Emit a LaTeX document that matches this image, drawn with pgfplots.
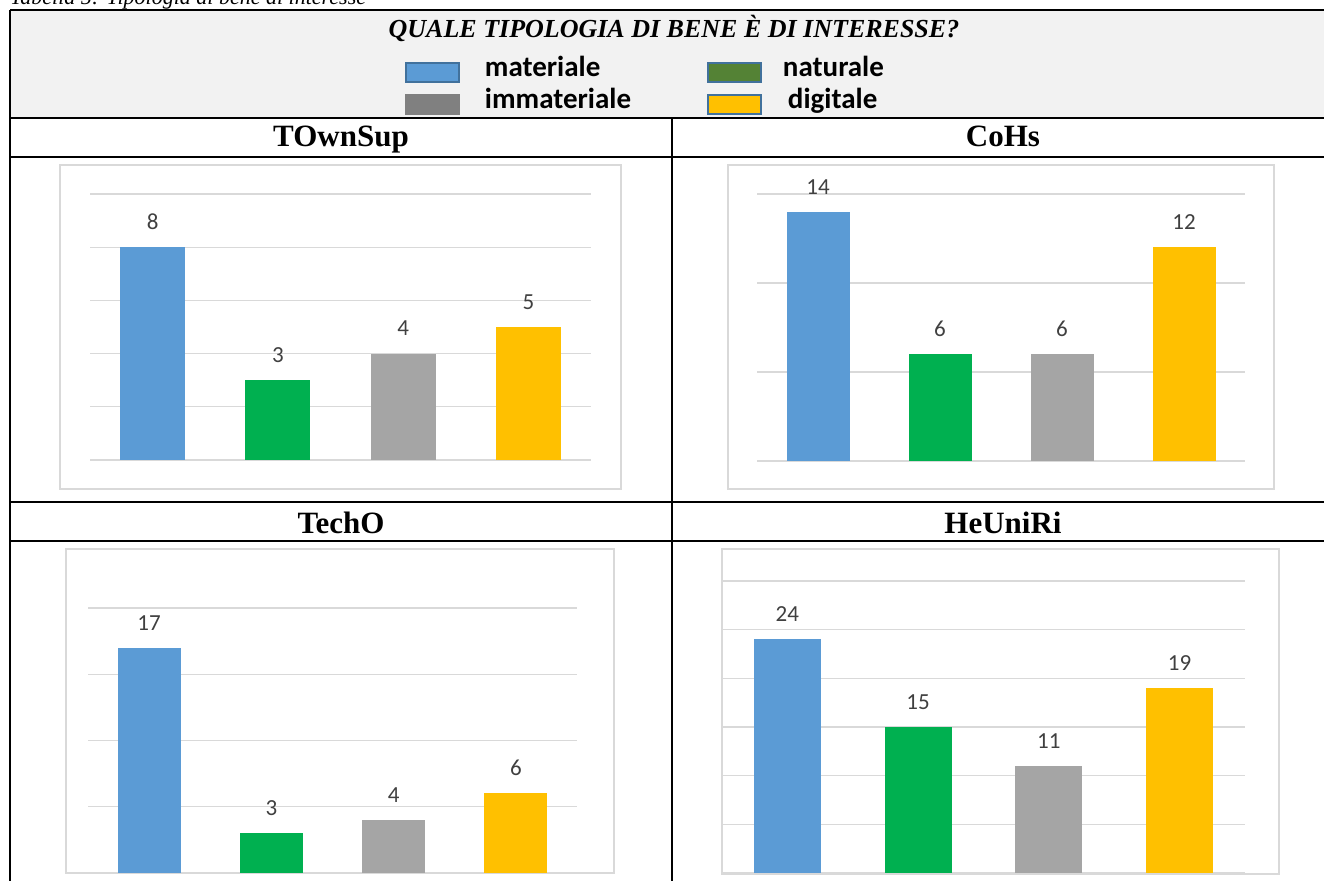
\documentclass[border=0pt]{standalone}
\usepackage{fontspec}
\setmainfont{Liberation Serif}
\newfontfamily\carlito{Carlito}
\usepackage{pgfplots}
\pgfplotsset{compat=1.18}

\definecolor{cBlue}{HTML}{5B9BD5}
\definecolor{cGreen}{HTML}{00B050}
\definecolor{cGray}{HTML}{A5A5A5}
\definecolor{cYellow}{HTML}{FFC000}
\definecolor{cGrid}{HTML}{D9D9D9}
\definecolor{cLabel}{HTML}{404040}
\definecolor{cHead}{HTML}{F2F2F2}
\definecolor{legEdge}{HTML}{41719C}
\definecolor{legGreen}{HTML}{548235}
\definecolor{legGray}{HTML}{808080}

\newcommand\capfont{\fontsize{22}{26}\selectfont\itshape}
\newcommand\titlefont{\fontsize{26}{30}\selectfont\bfseries\itshape}
\newcommand\rowfont{\fontsize{31}{36}\selectfont\bfseries}
\newcommand\legfont{\carlito\bfseries\fontsize{29}{32}\selectfont}
\newcommand\labfont{\carlito\fontsize{23}{26}\selectfont}

\pgfplotsset{
  panel/.style={
    scale only axis, clip=false, anchor=south west,
    xmin=-0.5, xmax=3.5, ymin=0,
    axis line style={draw=none},
    tick style={draw=none}, major tick length=0pt,
    xtick=\empty, yticklabels={},
    ymajorgrids, grid style={cGrid, line width=1.3pt},
    /pgf/number format/assume math mode=true,
    nodes near coords,
    every node near coord/.append style={font=\labfont, text=cLabel, inner sep=0pt, yshift=17.5pt},
  },
  bb/.style={ybar, bar shift=0pt, fill=#1, draw=none, forget plot},
  legbox/.style 2 args={legend image code/.code={%
      \draw[fill=#1, draw=#2, line width=2pt] (0pt,-5.5pt) rectangle (53pt,13.5pt);
      \path[draw=none, fill=none, opacity=0] (0pt,0pt) -- (73pt,0pt);}},
}

\begin{document}
\begin{tikzpicture}[x=1pt,y=1pt]
\path[use as bounding box] (0,0) rectangle (1324,880);

% caption (partly cut off at the top, as in the source page)
\node[anchor=base west, font=\capfont, inner sep=0pt] at (10,875) {Tabella 5: Tipologia di bene di interesse};

% header background
\fill[cHead] (10,870) rectangle (1334,762);

% table lines
\begin{scope}[line width=2.3pt, black]
  \draw (10,870) -- (1334,870);
  \draw (10,870) -- (10,-10);
  \draw (1334,870) -- (1334,-10);
  \draw (10,762) -- (1334,762);
  \draw (10,723) -- (1334,723);
  \draw (10,378) -- (1334,378);
  \draw (10,339) -- (1334,339);
  \draw (672,762) -- (672,-10);
\end{scope}

% title
\node[anchor=base, font=\titlefont, inner sep=0pt] at (674,842.7) {QUALE TIPOLOGIA DI BENE È DI INTERESSE?};

% row titles
\node[anchor=base, font=\rowfont, inner sep=0pt] at (341,733.3) {TOwnSup};
\node[anchor=base, font=\rowfont, inner sep=0pt] at (1003,733.3) {CoHs};
\node[anchor=base, font=\rowfont, inner sep=0pt] at (341,346.7) {TechO};
\node[anchor=base, font=\rowfont, inner sep=0pt] at (1003,346.7) {HeUniRi};

% chart frames
\begin{scope}[draw=cGrid, line width=1.5pt]
  \draw (60,391) rectangle (621,715);
  \draw (728,391) rectangle (1274,715);
  \draw (66,7) rectangle (614,331);
  \draw (722,6) rectangle (1279,331);
\end{scope}

% TOwnSup
\begin{axis}[panel, at={(90pt,420pt)}, width=501pt, height=266pt,
  ymax=10, ytick={0,2,4,6,8,10}, bar width=65pt,
  legend columns=2, legend cell align=left,
  legend style={at={(0.6287,1.5226)}, anchor=north west, draw=none, fill=none,
    inner sep=0pt, outer sep=0pt, row sep=3.5pt, column sep=0pt, font=\legfont,
    cells={anchor=base west, inner sep=0pt, text height=20pt, text depth=6pt, text width=224pt}},
  ]
  \addplot[bb=cBlue]   coordinates {(0,8)};
  \addplot[bb=cGreen]  coordinates {(1,3)};
  \addplot[bb=cGray]   coordinates {(2,4)};
  \addplot[bb=cYellow] coordinates {(3,5)};
  \addlegendimage{legbox={cBlue}{legEdge}}
  \addlegendentry{\hspace*{4pt}materiale}
  \addlegendimage{legbox={legGreen}{legEdge}}
  \addlegendentry{naturale}
  \addlegendimage{legbox={legGray}{legGray}}
  \addlegendentry{\hspace*{4pt}immateriale}
  \addlegendimage{legbox={cYellow}{legEdge}}
  \addlegendentry{\hspace*{5pt}digitale}
\end{axis}

% CoHs
\begin{axis}[panel, at={(757pt,419pt)}, width=488pt, height=267pt,
  ymax=15, ytick={0,5,10,15}, bar width=63pt]
  \addplot[bb=cBlue]   coordinates {(0,14)};
  \addplot[bb=cGreen]  coordinates {(1,6)};
  \addplot[bb=cGray]   coordinates {(2,6)};
  \addplot[bb=cYellow] coordinates {(3,12)};
\end{axis}

% TechO
\begin{axis}[panel, at={(88pt,7pt)}, width=489pt, height=265pt,
  ymax=20, ytick={0,5,10,15,20}, bar width=63pt]
  \addplot[bb=cBlue]   coordinates {(0,17)};
  \addplot[bb=cGreen]  coordinates {(1,3)};
  \addplot[bb=cGray]   coordinates {(2,4)};
  \addplot[bb=cYellow] coordinates {(3,6)};
\end{axis}

% HeUniRi
\begin{axis}[panel, at={(722pt,7pt)}, width=523pt, height=292pt,
  ymax=30, ytick={0,5,10,15,20,25,30}, bar width=67pt]
  \addplot[bb=cBlue]   coordinates {(0,24)};
  \addplot[bb=cGreen]  coordinates {(1,15)};
  \addplot[bb=cGray]   coordinates {(2,11)};
  \addplot[bb=cYellow] coordinates {(3,19)};
\end{axis}
\end{tikzpicture}
\end{document}
